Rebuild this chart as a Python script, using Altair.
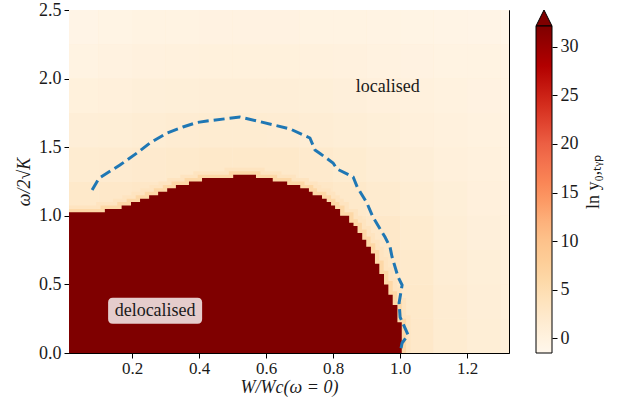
import altair as alt
import pandas as pd

# ---------------- data ----------------
# delocalised region (ln y_typ diverges): staircase boundary, segment starts / tops
deloc_x0 = [0.012, 0.119, 0.169, 0.197, 0.224, 0.251, 0.278, 0.305, 0.331, 0.370,
            0.409, 0.502, 0.570, 0.620, 0.663, 0.702, 0.728, 0.739, 0.767, 0.781,
            0.794, 0.806, 0.821, 0.848, 0.861, 0.873, 0.887, 0.899, 0.913, 0.925,
            0.938, 0.952, 0.965, 0.978, 0.992]
deloc_end = 1.005
deloc_top = [1.025, 1.05, 1.075, 1.1, 1.125, 1.15, 1.175, 1.2, 1.225, 1.25,
             1.275, 1.3, 1.275, 1.25, 1.225, 1.2, 1.175, 1.15, 1.125, 1.1,
             1.075, 1.05, 1.0, 0.95, 0.925, 0.875, 0.825, 0.775, 0.725, 0.65,
             0.575, 0.5, 0.425, 0.35, 0.225]
deloc_value = 35.0          # beyond the colour bar maximum
halo_inner_value = 6.0      # cells touching the boundary
halo_outer_value = 3.5
underlay_value = 1.0

# localised background, coarse grid of ln y_typ (rows bottom -> top)
bg_x_edges = [0.0, 0.1, 0.2, 0.3, 0.4, 0.5, 0.6, 0.7, 0.8, 0.9, 1.0, 1.1, 1.2, 1.3, 1.4]
bg_y_edges = [0.0, 0.25, 0.5, 0.75, 1.0, 1.25, 1.5, 1.75, 2.0, 2.25, 2.5]
bg_values = [
    [3, 3, 3, 3, 3, 3, 3, 3, 3, 3.0, 2.6, 1.6, 1.0, 0.6],
    [3, 3, 3, 3, 3, 3, 3, 3, 3, 3.0, 2.4, 1.5, 0.9, 0.5],
    [3, 3, 3, 3, 3, 3, 3, 3, 3, 3.0, 2.2, 1.3, 0.8, 0.4],
    [3, 3, 3, 3, 3, 3, 3, 3, 3.0, 2.6, 1.9, 1.1, 0.6, 0.3],
    [2.4, 2.6, 2.8, 3.0, 3.0, 3.0, 3.0, 2.9, 2.4, 1.9, 1.4, 0.8, 0.4, 0.1],
    [1.6, 1.8, 2.0, 2.2, 2.4, 2.5, 2.4, 2.1, 1.7, 1.3, 0.9, 0.5, 0.2, -0.1],
    [0.9, 1.1, 1.3, 1.5, 1.6, 1.6, 1.5, 1.3, 1.1, 0.8, 0.5, 0.2, 0.0, -0.2],
    [0.3, 0.5, 0.7, 0.8, 0.9, 0.9, 0.9, 0.8, 0.6, 0.4, 0.2, 0.0, -0.2, -0.3],
    [-0.3, -0.1, 0.1, 0.2, 0.3, 0.3, 0.3, 0.2, 0.1, -0.1, -0.2, -0.3, -0.4, -0.5],
    [-0.8, -0.6, -0.4, -0.3, -0.2, -0.2, -0.2, -0.3, -0.4, -0.5, -0.6, -0.7, -0.8, -0.9],
]

# mobility edge (dashed line)
crit_x = [0.081, 0.102, 0.164, 0.215, 0.254, 0.304, 0.352, 0.394, 0.424, 0.522,
          0.582, 0.672, 0.731, 0.746, 0.761, 0.800, 0.812, 0.860, 0.872, 0.901,
          0.919, 0.955, 0.970, 0.976, 0.994, 1.006, 0.997, 1.000, 1.024, 1.006, 1.000]
crit_y = [1.188, 1.275, 1.370, 1.458, 1.531, 1.603, 1.647, 1.680, 1.691, 1.720,
          1.686, 1.633, 1.567, 1.480, 1.454, 1.385, 1.341, 1.283, 1.210, 1.093,
          0.991, 0.845, 0.773, 0.700, 0.554, 0.496, 0.364, 0.262, 0.131, 0.073, 0.0]

labels_text = ["localised", "delocalised"]
labels_x = [0.963, 0.269]
labels_y = [1.94, 0.308]

x_ticks = [0.2, 0.4, 0.6, 0.8, 1.0, 1.2]
y_ticks = [0.0, 0.5, 1.0, 1.5, 2.0, 2.5]
cb_ticks = [0, 5, 10, 15, 20, 25, 30]
cb_min, cb_max = -1.51, 32.1
orrd = ["#fff7ec", "#fee8c8", "#fdd49e", "#fdbb84", "#fc8d59",
        "#ef6548", "#d7301f", "#b30000", "#7f0000"]

# ---------------- tables ----------------
bg_rows = [dict(x0=0.0, x1=1.4, y0=0.0, y1=2.5, v=underlay_value, o=0)]
for i, row in enumerate(bg_values):
    for j, v in enumerate(row):
        bg_rows.append(dict(x0=bg_x_edges[j], x1=bg_x_edges[j + 1],
                            y0=bg_y_edges[i], y1=bg_y_edges[i + 1], v=v, o=1))
bg_df = pd.DataFrame(bg_rows)

deloc_x1 = deloc_x0[1:] + [deloc_end]
halo_rows = []
for k, (a, b, t) in enumerate(zip(deloc_x0, deloc_x1, deloc_top)):
    halo_rows.append(dict(x0=a - 0.026, x1=b + 0.026, y0=0, y1=t + 0.05, v=halo_outer_value, o=0))
    halo_rows.append(dict(x0=a - 0.013, x1=b + 0.013, y0=0, y1=t + 0.025, v=halo_inner_value, o=1))
halo_df = pd.DataFrame(halo_rows)

deloc_df = pd.DataFrame(dict(x=deloc_x0 + [deloc_end], y=deloc_top + [deloc_top[-1]],
                             base=0.0, v=deloc_value))
crit_df = pd.DataFrame(dict(x=crit_x, y=crit_y, i=list(range(len(crit_x)))))
lab_df = pd.DataFrame(dict(t=labels_text, x=labels_x, y=labels_y))

# ---------------- chart ----------------
FONT = "Liberation Serif"
TXT = "#1a1a1a"
xs = alt.Scale(domain=[0.012, 1.325], nice=False, zero=False)
ys = alt.Scale(domain=[0, 2.5], nice=False)
stops = [cb_min + k * (cb_max - cb_min) / (len(orrd) - 1) for k in range(len(orrd))]
cscale = alt.Scale(domain=stops, range=orrd, interpolate="rgb", clamp=True)
legend = alt.Legend(type="gradient", orient="none", legendX=467, legendY=16,
                    direction="vertical", gradientLength=327, gradientThickness=16,
                    title=None, labelExpr="''", padding=0, gradientStrokeColor="black",
                    gradientStrokeWidth=1)

x_enc = alt.X("x0:Q", scale=xs, axis=alt.Axis(values=x_ticks, format=".1f",
              title="W/Wc(ω = 0)", titleFontStyle="italic", labelPadding=2, titlePadding=2,
              labelFontSize=17))
y_enc = alt.Y("y0:Q", scale=ys, axis=alt.Axis(orient="left", values=y_ticks, format=".1f",
              title="ω/2√K", titleFontStyle="italic"))

bg = alt.Chart(bg_df).mark_rect(clip=True).encode(
    x=x_enc, x2="x1:Q", y=y_enc, y2="y1:Q",
    color=alt.Color("v:Q", scale=cscale, legend=legend),
    order=alt.Order("o:Q"))

halo = alt.Chart(halo_df).mark_rect(clip=True).encode(
    x=alt.X("x0:Q", scale=xs), x2="x1:Q", y=alt.Y("y0:Q", scale=ys), y2="y1:Q",
    color=alt.Color("v:Q", scale=cscale, legend=legend),
    order=alt.Order("o:Q"))

deloc = alt.Chart(deloc_df).mark_area(interpolate="step-after", clip=True).encode(
    x=alt.X("x:Q", scale=xs), y=alt.Y("y:Q", scale=ys), y2="base:Q",
    color=alt.Color("v:Q", scale=cscale, legend=legend))

crit = alt.Chart(crit_df).mark_line(color="#1f77b4", strokeWidth=3, strokeDash=[11, 5],
                                    strokeCap="butt", clip=True).encode(
    x=alt.X("x:Q", scale=xs), y=alt.Y("y:Q", scale=ys), order="i:Q")

box_path = ("M-0.9,-0.2766 L0.9,-0.2766 Q1,-0.2766 1,-0.1766 L1,0.1766 Q1,0.2766 0.9,0.2766 "
            "L-0.9,0.2766 Q-1,0.2766 -1,0.1766 L-1,-0.1766 Q-1,-0.2766 -0.9,-0.2766 Z")
box = alt.Chart(lab_df).transform_filter(alt.datum.t == "delocalised").mark_point(
    shape=box_path, size=8836, filled=True, fill="white", opacity=0.8, strokeWidth=0).encode(
    x=alt.X("x:Q", scale=xs), y=alt.Y("y:Q", scale=ys))

text = alt.Chart(lab_df).mark_text(font=FONT, fontSize=18, color=TXT, baseline="middle").encode(
    x=alt.X("x:Q", scale=xs), y=alt.Y("y:Q", scale=ys), text="t:N")

tri = alt.Chart(pd.DataFrame({"a": [0]})).mark_point(
    shape="M-1,1L0,-1L1,1Z", size=256, filled=True, fill="#7f0000", stroke="black",
    strokeWidth=1, opacity=1).encode(x=alt.value(475), y=alt.value(8))

main = alt.layer(bg, halo, deloc, crit, box, text, tri)

cb_axis = alt.Chart(pd.DataFrame({"t": cb_ticks})).mark_point(opacity=0).encode(
    x=alt.value(0),
    y=alt.Y("t:Q", scale=alt.Scale(domain=[-1.51, 33.78], nice=False, zero=False),
            axis=alt.Axis(orient="right", offset=43, values=cb_ticks, title="ln y₀,ₜᵧₚ",
                          titleAngle=270, titleBaseline="top", domain=False, titlePadding=6)))

chart = alt.layer(main, cb_axis).resolve_scale(y="independent").properties(
    width=440, height=343,
    autosize=alt.AutoSizeParams(type="none"),
    padding={"left": 69, "top": 10, "right": 122, "bottom": 47},
    background="white",
).configure_view(stroke="black", strokeWidth=1).configure_axis(
    labelFont=FONT, labelFontSize=18, labelColor=TXT, titleFont=FONT, titleFontSize=18,
    titleColor=TXT, titleFontWeight="normal", grid=False, tickColor="black", tickSize=5,
    domainColor="black", labelPadding=3, titlePadding=5)

chart.save("out.html", embed_options={"renderer": "svg", "actions": False})
